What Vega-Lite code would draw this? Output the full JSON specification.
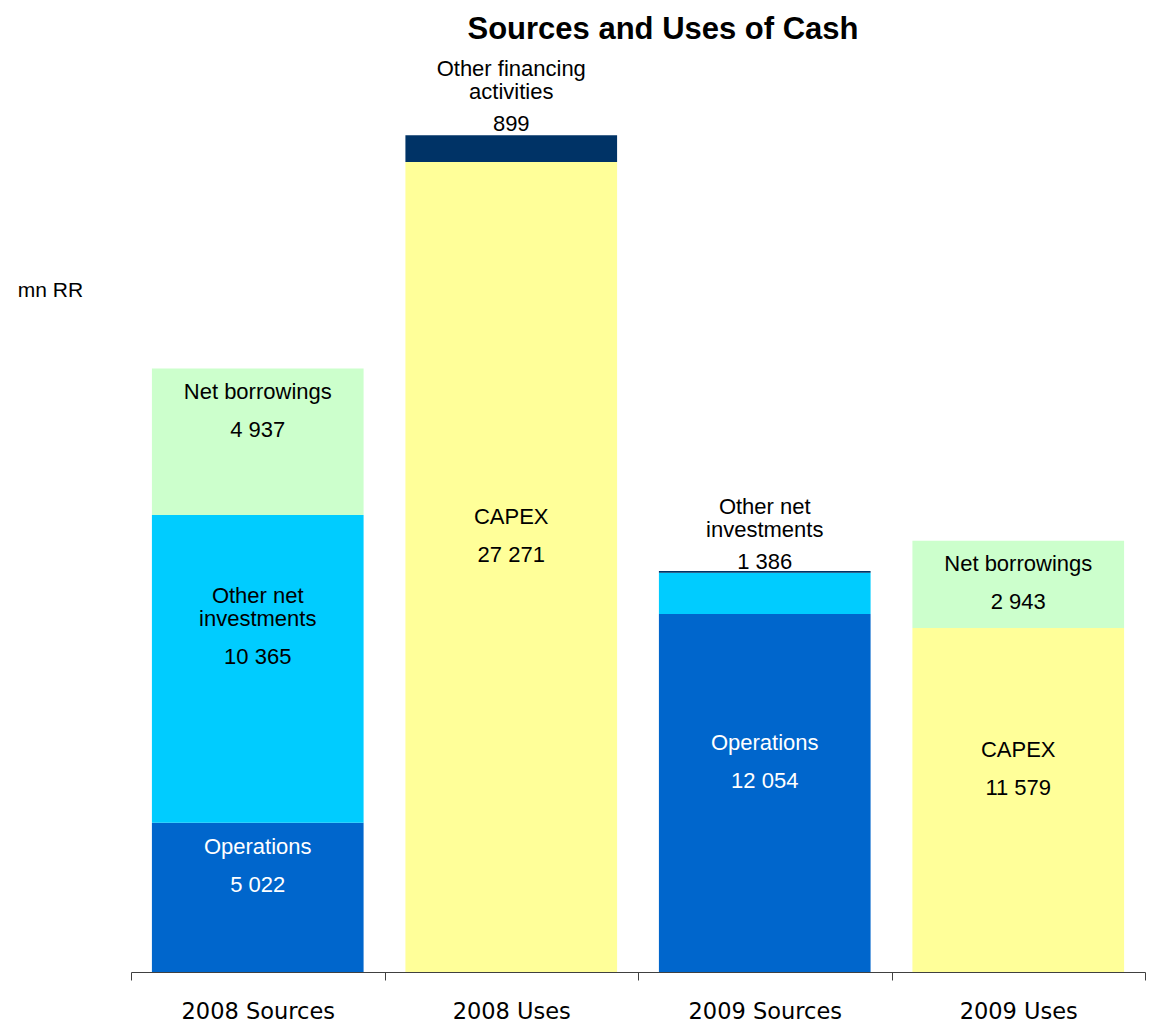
{
  "$schema": "https://vega.github.io/schema/vega-lite/v6.json",
  "autosize": "none",
  "padding": {"left": 131, "top": 81, "right": 5, "bottom": 60},
  "width": 1014,
  "height": 891,
  "background": "white",
  "title": {
    "text": "Sources and Uses of Cash",
    "font": "Liberation Sans",
    "fontSize": 31,
    "fontWeight": "bold",
    "color": "black",
    "anchor": "middle",
    "frame": "group",
    "baseline": "alphabetic",
    "offset": -12,
    "dx": 25
  },
  "data": {
    "values": [
      {"category": "2008 Sources", "segment": "Operations", "l1": "", "l2": "Operations", "value": 5022},
      {"category": "2008 Sources", "segment": "Other net investments", "l1": "Other net", "l2": "investments", "value": 10365},
      {"category": "2008 Sources", "segment": "Net borrowings", "l1": "", "l2": "Net borrowings", "value": 4937},
      {"category": "2008 Uses", "segment": "CAPEX", "l1": "", "l2": "CAPEX", "value": 27271},
      {"category": "2008 Uses", "segment": "Other financing activities", "l1": "Other financing", "l2": "activities", "value": 899},
      {"category": "2009 Sources", "segment": "Operations", "l1": "", "l2": "Operations", "value": 12054},
      {"category": "2009 Sources", "segment": "Other net investments", "l1": "Other net", "l2": "investments", "value": 1386},
      {"category": "2009 Sources", "segment": "Other financing activities", "l1": "", "l2": "", "value": 60},
      {"category": "2009 Uses", "segment": "CAPEX", "l1": "", "l2": "CAPEX", "value": 11579},
      {"category": "2009 Uses", "segment": "Net borrowings", "l1": "", "l2": "Net borrowings", "value": 2943}
    ]
  },
  "transform": [
    {"calculate": "indexof(['Operations','CAPEX','Other net investments','Net borrowings','Other financing activities'], datum.segment)", "as": "rank"},
    {"stack": "value", "groupby": ["category"], "sort": [{"field": "rank", "order": "ascending"}], "as": ["y0", "y1"]},
    {"calculate": "(datum.y0 + datum.y1) / 2 - (datum.value < 4000 ? 1000 : 0)", "as": "mid"}
  ],
  "encoding": {
    "x": {
      "field": "category",
      "type": "nominal",
      "sort": ["2008 Sources", "2008 Uses", "2009 Sources", "2009 Uses"],
      "scale": {"paddingInner": 0, "paddingOuter": 0},
      "axis": {
        "title": null,
        "labelAngle": 0,
        "tickBand": "extent",
        "tickSize": 8,
        "tickColor": "#404040",
        "domainColor": "#404040",
        "labelFont": "DejaVu Sans",
        "labelFontSize": 22.5,
        "labelColor": "black",
        "labelPadding": 20,
        "grid": false
      }
    }
  },
  "layer": [
    {
      "mark": {"type": "bar", "width": {"band": 0.835}},
      "encoding": {
        "y": {
          "field": "y1",
          "type": "quantitative",
          "scale": {"domain": [0, 30000]},
          "axis": {
            "title": "mn RR",
            "titleAngle": 0,
            "titleX": -81,
            "titleY": 209,
            "titleAlign": "center",
            "titleBaseline": "middle",
            "titleFont": "Liberation Sans",
            "titleFontSize": 21,
            "titleFontWeight": "normal",
            "titleColor": "black",
            "domain": false,
            "ticks": false,
            "labels": false,
            "grid": false
          }
        },
        "y2": {"field": "y0"},
        "color": {
          "field": "segment",
          "type": "nominal",
          "legend": null,
          "scale": {
            "domain": ["Operations", "Other net investments", "Net borrowings", "CAPEX", "Other financing activities"],
            "range": ["#0066CC", "#00CCFF", "#CCFFCC", "#FFFF99", "#003366"]
          }
        }
      }
    },
    {
      "transform": [{"filter": "datum.value >= 2000"}],
      "mark": {"type": "text", "baseline": "middle", "align": "center", "dy": -12, "font": "Liberation Sans", "fontSize": 22},
      "encoding": {
        "y": {"field": "mid", "type": "quantitative"},
        "text": {"field": "value", "type": "quantitative", "format": ",d"},
        "color": {"condition": {"test": "datum.segment === 'Operations'", "value": "white"}, "value": "black"}
      }
    },
    {
      "transform": [{"filter": "datum.value >= 2000"}],
      "mark": {"type": "text", "baseline": "middle", "align": "center", "dy": -50, "font": "Liberation Sans", "fontSize": 22},
      "encoding": {
        "y": {"field": "mid", "type": "quantitative"},
        "text": {"field": "l2", "type": "nominal"},
        "color": {"condition": {"test": "datum.segment === 'Operations'", "value": "white"}, "value": "black"}
      }
    },
    {
      "transform": [{"filter": "datum.value >= 2000"}],
      "mark": {"type": "text", "baseline": "middle", "align": "center", "dy": -73, "font": "Liberation Sans", "fontSize": 22},
      "encoding": {
        "y": {"field": "mid", "type": "quantitative"},
        "text": {"field": "l1", "type": "nominal"},
        "color": {"condition": {"test": "datum.segment === 'Operations'", "value": "white"}, "value": "black"}
      }
    },
    {
      "transform": [{"filter": "datum.value < 2000 && datum.value > 200"}],
      "mark": {"type": "text", "baseline": "middle", "align": "center", "dy": -11, "font": "Liberation Sans", "fontSize": 22, "color": "black"},
      "encoding": {
        "y": {"field": "y1", "type": "quantitative"},
        "text": {"field": "value", "type": "quantitative", "format": ",d"}
      }
    },
    {
      "transform": [{"filter": "datum.value < 2000 && datum.value > 200"}],
      "mark": {"type": "text", "baseline": "middle", "align": "center", "dy": -43, "font": "Liberation Sans", "fontSize": 22, "color": "black"},
      "encoding": {
        "y": {"field": "y1", "type": "quantitative"},
        "text": {"field": "l2", "type": "nominal"}
      }
    },
    {
      "transform": [{"filter": "datum.value < 2000 && datum.value > 200"}],
      "mark": {"type": "text", "baseline": "middle", "align": "center", "dy": -66, "font": "Liberation Sans", "fontSize": 22, "color": "black"},
      "encoding": {
        "y": {"field": "y1", "type": "quantitative"},
        "text": {"field": "l1", "type": "nominal"}
      }
    }
  ],
  "config": {
    "view": {"stroke": null},
    "locale": {
      "number": {"decimal": ",", "thousands": " ", "grouping": [3], "currency": ["", ""]}
    }
  }
}
